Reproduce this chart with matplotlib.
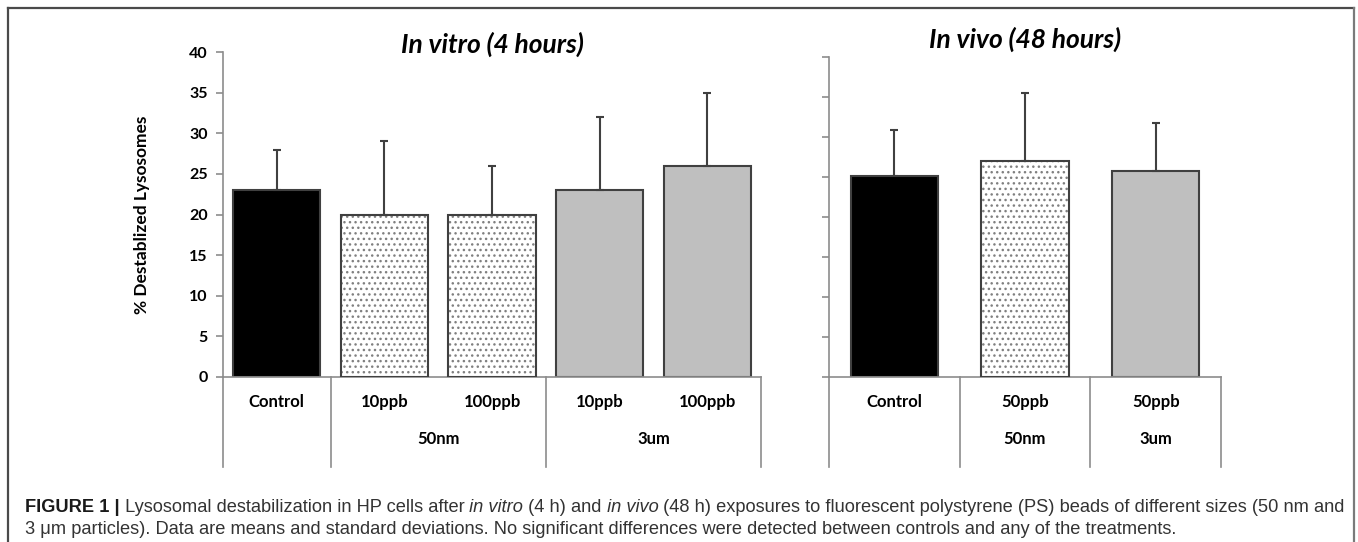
import numpy as np
import matplotlib
matplotlib.use("Agg")
import matplotlib.pyplot as plt
from matplotlib.lines import Line2D
from matplotlib.transforms import blended_transform_factory

# data
vitro_labels = ["Control", "10ppb", "100ppb", "10ppb", "100ppb"]
vitro_means = [23, 20, 20, 23, 26]
vitro_sd = [5, 9, 6, 9, 9]
vitro_groups = ["50nm", "3um"]

vivo_labels = ["Control", "50ppb", "50ppb"]
vivo_groups = ["", "50nm", "3um"]
vivo_means = [25.1, 27.0, 25.8]
vivo_sd = [5.8, 8.5, 5.9]

EDGE = "#404040"
AXC = "#8C8C8C"
W, H = 1358, 542
LAB_FS = 12
plt.rcParams["font.family"] = ["Lato", "DejaVu Sans"]

fig = plt.figure(figsize=(W / 100, H / 100), dpi=100)


def px_axes(x0, y0, x1, y1):
    return fig.add_axes([x0 / W, 1 - y1 / H, (x1 - x0) / W, (y1 - y0) / H])


def draw_bar(ax, x, val, style, width):
    if style == "black":
        ax.bar(x, val, width, color="black", edgecolor=EDGE, linewidth=1.5, zorder=2)
    elif style == "gray":
        ax.bar(x, val, width, color="#BFBFBF", edgecolor=EDGE, linewidth=1.5, zorder=2)
    else:
        # dotted fill first, then outline on top
        ax.bar(x, val, width, color="white", edgecolor="#808080", linewidth=0,
               hatch="...", zorder=2)
        ax.bar(x, val, width, fill=False, edgecolor=EDGE, linewidth=1.5, zorder=3)


def style_axes(ax, n, show_labels):
    ax.set_xlim(-0.5, n - 0.5)
    ax.set_ylim(0, 40)
    ax.set_yticks(np.arange(0, 41, 5))
    for s in ["top", "right"]:
        ax.spines[s].set_visible(False)
    for s in ["left", "bottom"]:
        ax.spines[s].set_color(AXC)
        ax.spines[s].set_linewidth(1.2)
    ax.set_xticks([])
    ax.tick_params(axis="y", direction="out", length=5, width=1.2, color=AXC,
                   labelsize=11.5, pad=6)
    if show_labels:
        for t in ax.get_yticklabels():
            t.set_fontweight("bold")
    else:
        ax.set_yticklabels([])


def separators(ax, xs, depth):
    tr = blended_transform_factory(ax.transData, ax.transAxes)
    for x in xs:
        ax.plot([x, x], [0, -depth], color=AXC, lw=1.2, transform=tr, clip_on=False)


# ---------------- left panel: in vitro ----------------
ax1 = px_axes(223, 52, 761, 377)
styles1 = ["black", "dot", "dot", "gray", "gray"]
x1 = np.arange(len(vitro_means))
for i in range(len(x1)):
    draw_bar(ax1, x1[i], vitro_means[i], styles1[i], 0.81)
ax1.errorbar(x1, vitro_means, yerr=[np.zeros(len(x1)), vitro_sd], fmt="none",
             ecolor=EDGE, elinewidth=1.5, capsize=3, capthick=1.5, zorder=4)
style_axes(ax1, len(x1), True)
separators(ax1, [-0.5, 0.5, 2.5, 4.5], 90 / 325)
tr1 = blended_transform_factory(ax1.transData, ax1.transAxes)
for i, lab in enumerate(vitro_labels):
    ax1.text(x1[i], -25 / 325, lab, transform=tr1, ha="center", va="center",
             fontsize=LAB_FS, fontweight="bold")
ax1.text(1.5, -62 / 325, vitro_groups[0], transform=tr1, ha="center", va="center",
         fontsize=LAB_FS, fontweight="bold")
ax1.text(3.5, -62 / 325, vitro_groups[1], transform=tr1, ha="center", va="center",
         fontsize=LAB_FS, fontweight="bold")
ax1.text(0.5, 1.025, "In vitro (4 hours)", transform=ax1.transAxes, ha="center",
         va="center", fontsize=19, fontweight="bold", fontstyle="italic")
ax1.set_ylabel("% Destablized Lysosomes", fontsize=12.5, fontweight="bold", labelpad=28)

# ---------------- right panel: in vivo ----------------
ax2 = px_axes(829, 57, 1221, 377)
styles2 = ["black", "dot", "gray"]
x2 = np.arange(len(vivo_means))
for i in range(len(x2)):
    draw_bar(ax2, x2[i], vivo_means[i], styles2[i], 0.67)
ax2.errorbar(x2, vivo_means, yerr=[np.zeros(len(x2)), vivo_sd], fmt="none",
             ecolor=EDGE, elinewidth=1.5, capsize=3, capthick=1.5, zorder=4)
style_axes(ax2, len(x2), False)
separators(ax2, [-0.5, 0.5, 1.5, 2.5], 90 / 320)
tr2 = blended_transform_factory(ax2.transData, ax2.transAxes)
for i, lab in enumerate(vivo_labels):
    ax2.text(x2[i], -25 / 320, lab, transform=tr2, ha="center", va="center",
             fontsize=LAB_FS, fontweight="bold")
    ax2.text(x2[i], -62 / 320, vivo_groups[i], transform=tr2, ha="center",
             va="center", fontsize=LAB_FS, fontweight="bold")
ax2.text(0.5, 1.055, "In vivo (48 hours)", transform=ax2.transAxes, ha="center",
         va="center", fontsize=19, fontweight="bold", fontstyle="italic")

# ---------------- frame ----------------
fc = "#4A4A4A"
fig.add_artist(Line2D([8 / W, 1354 / W], [1 - 8 / H, 1 - 8 / H], color=fc, lw=1.6,
                      transform=fig.transFigure))
fig.add_artist(Line2D([8 / W, 8 / W], [0, 1 - 8 / H], color=fc, lw=1.6,
                      transform=fig.transFigure))
fig.add_artist(Line2D([1354 / W, 1354 / W], [0, 1 - 8 / H], color="#7A7A7A", lw=1.6,
                      transform=fig.transFigure))

# ---------------- caption ----------------
line1 = [("FIGURE 1 |", "bold", "normal", "#1A1A1A"),
         (" Lysosomal destabilization in HP cells after", "normal", "normal", "#333333"),
         (" in vitro", "normal", "italic", "#333333"),
         (" (4 h) and", "normal", "normal", "#333333"),
         (" in vivo", "normal", "italic", "#333333"),
         (" (48 h) exposures to fluorescent polystyrene (PS) beads of different sizes (50 nm and",
          "normal", "normal", "#333333")]
line2 = [("3 \u03bcm particles). Data are means and standard deviations. No significant "
          "differences were detected between controls and any of the treatments.",
          "normal", "normal", "#333333")]

renderer = fig.canvas.get_renderer()
CAP_FAM = ["Liberation Sans", "DejaVu Sans"]


def line_width(parts, fs):
    total = 0
    for txt, wt, st, col in parts:
        t = fig.text(0, 0, txt, fontsize=fs, fontweight=wt, fontstyle=st, family=CAP_FAM)
        total += t.get_window_extent(renderer).width
        t.remove()
    return total


# size the caption so the first line fills the box like the original
cap_fs = 11.0 * 1315 / line_width(line1, 11.0)


def put_line(parts, x0, ybase):
    x = x0
    for txt, wt, st, col in parts:
        t = fig.text(x / W, 1 - ybase / H, txt, fontsize=cap_fs, fontweight=wt,
                     fontstyle=st, color=col, va="baseline", ha="left", family=CAP_FAM)
        x += t.get_window_extent(renderer).width


put_line(line1, 25, 512)
put_line(line2, 25, 534)

fig.savefig("out.png", dpi=100)
